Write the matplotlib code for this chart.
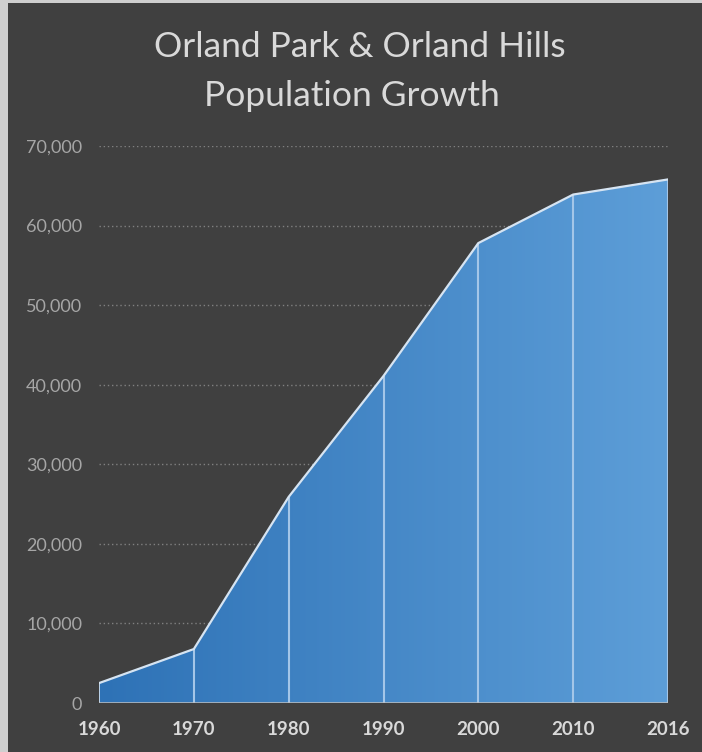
import numpy as np
import matplotlib.pyplot as plt
from matplotlib.colors import LinearSegmentedColormap
from matplotlib.patches import Rectangle
from matplotlib.ticker import FuncFormatter

years = ['1960', '1970', '1980', '1990', '2000', '2010', '2016']
population = [2500, 6780, 25900, 41100, 57800, 63900, 65800]

bg = '#404040'
fig = plt.figure(figsize=(7.02, 7.52), dpi=100, facecolor=bg)
# light frame strip on the left and top edges
fig.patches.append(Rectangle((0, 0), 8 / 702, 1, transform=fig.transFigure,
                             facecolor='#cfcfcf', edgecolor='none', zorder=0))
fig.patches.append(Rectangle((0, 1 - 3 / 752), 1, 3 / 752, transform=fig.transFigure,
                             facecolor='#cfcfcf', edgecolor='none', zorder=0))

ax = fig.add_axes([99 / 702, 1 - 703 / 752, 569 / 702, 557 / 752])
ax.set_facecolor(bg)

x = np.arange(len(years))
ax.set_xlim(0, len(years) - 1)
ax.set_ylim(0, 70000)

# gradient area, clipped to the filled polygon
poly = ax.fill_between(x, population, 0, facecolor='none', edgecolor='none', zorder=2)
cmap = LinearSegmentedColormap.from_list('blues', ['#2e72b6', '#5d9ed8'])
grad = np.linspace(0, 1, 256).reshape(1, -1)
img = ax.imshow(grad, cmap=cmap, aspect='auto', extent=[0, len(years) - 1, 0, 70000],
                origin='lower', zorder=2)
img.set_clip_path(poly.get_paths()[0], transform=ax.transData)

# separators at each year and the top outline
ax.vlines(x[1:], 0, population[1:], color='#a4c6e8', lw=1.5, zorder=3)
ax.plot(x, population, color='#d6e4f2', lw=1.6, zorder=4, solid_joinstyle='miter')
ax.vlines([x[0]], 0, population[0], color='#d6e4f2', lw=1.2, zorder=4)
ax.axhline(0, color='#bfbfbf', lw=1.8, zorder=5)

ax.set_yticks(range(0, 70001, 10000))
ax.yaxis.set_major_formatter(FuncFormatter(lambda v, p: f'{int(v):,}'))
ax.grid(axis='y', color='#808080', lw=1, linestyle=(0, (1, 2)), zorder=1)
ax.set_axisbelow(True)
ax.set_xticks(x)
ax.set_xticklabels(years)

for s in ax.spines.values():
    s.set_visible(False)
ax.tick_params(axis='both', length=0)
ax.tick_params(axis='y', pad=12, labelcolor='#a6a6a6', labelsize=13)
ax.tick_params(axis='x', pad=13, labelcolor='#d9d9d9', labelsize=13.5)
for t in ax.get_yticklabels():
    t.set_fontfamily('Lato')
for t in ax.get_xticklabels():
    t.set_fontfamily('Lato')
    t.set_fontweight('bold')

fig.text(360 / 702, 1 - 57 / 752, 'Orland Park & Orland Hills', ha='center',
         va='baseline', color='#d9d9d9', fontsize=25.5, family='Lato')
fig.text(352 / 702, 1 - 106 / 752, 'Population Growth', ha='center',
         va='baseline', color='#d9d9d9', fontsize=25.5, family='Lato')

fig.savefig('out.png', dpi=100, facecolor=bg)
